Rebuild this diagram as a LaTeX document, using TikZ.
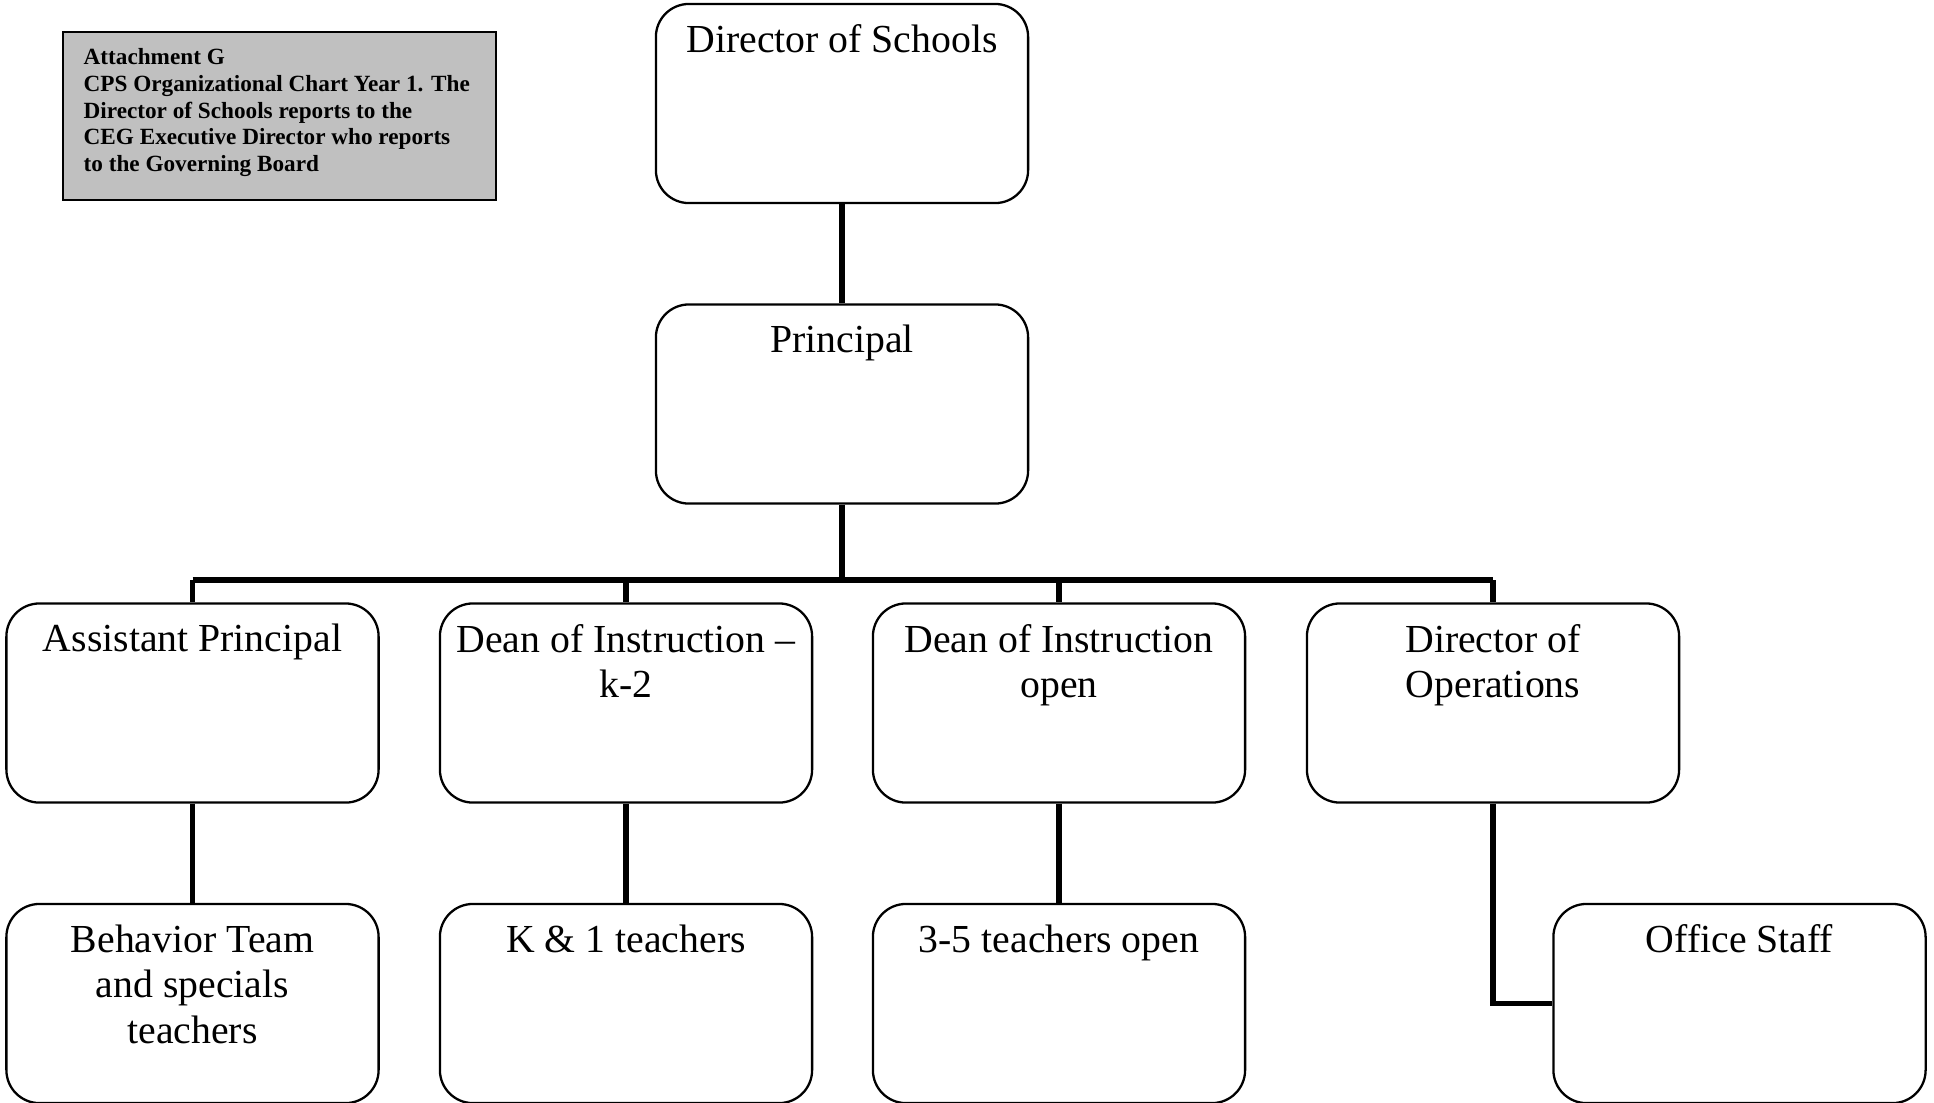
\documentclass[tikz,border=0pt]{standalone}
\usepackage{fontspec}
\setmainfont{Liberation Serif}
\usetikzlibrary{calc}

\definecolor{attgray}{HTML}{C0C0C0}
\tikzset{
orgbox/.style={draw,line width=0.65pt,rounded corners=0.33cm,minimum width=3.72cm,minimum height=1.99cm,inner sep=0pt},
boxtext/.style={anchor=north,yshift=-0.21cm,inner sep=0pt,align=center,font=\fontsize{11.3}{13}\selectfont},
link/.style={line width=1.6pt}
}

\begin{document}
\begin{tikzpicture}[x=0.01cm,y=-0.01cm]
\useasboundingbox (0,0) rectangle (1934,1102);
% note box
\node[draw,line width=0.65pt,fill=attgray,minimum width=4.33cm,minimum height=1.68cm,inner sep=0pt] (att) at (279.5,116) {};
\node[anchor=north west,inner sep=0pt,align=left,font=\bfseries\fontsize{6.6}{7.6}\selectfont] (attT) at (83,48) {Attachment G\\CPS Organizational Chart Year 1. The\\Director of Schools reports to the\\CEG Executive Director who reports\\to the Governing Board};

% boxes
\node[orgbox] (dir) at (842,103.5) {};
\node[boxtext] (dirT) at (dir.north) {Director of Schools};
\node[orgbox] (prin) at (842,404) {};
\node[boxtext] (prinT) at (prin.north) {Principal};

\node[orgbox] (ap) at (192.5,703) {};
\node[boxtext] (apT) at (ap.north) {Assistant Principal};
\node[orgbox] (dean) at (626,703) {};
\node[boxtext] (deanT) at (dean.north) {Dean of Instruction –\\k-2};
\node[orgbox] (deanopen) at (1059,703) {};
\node[boxtext] (deanopenT) at (deanopen.north) {Dean of Instruction\\open};
\node[orgbox] (ops) at (1493,703) {};
\node[boxtext] (opsT) at (ops.north) {Director of\\Operations};

\node[orgbox] (behav) at (192.5,1003.5) {};
\node[boxtext] (behavT) at (behav.north) {Behavior Team\\and specials\\teachers};
\node[orgbox] (kone) at (626,1003.5) {};
\node[boxtext] (koneT) at (kone.north) {K \& 1 teachers};
\node[orgbox] (tfive) at (1059,1003.5) {};
\node[boxtext] (tfiveT) at (tfive.north) {3-5 teachers open};
\node[orgbox] (office) at (1739.5,1003.5) {};
\node[boxtext] (officeT) at (office.north) {Office Staff};

% lines
\coordinate (bus) at (842,580);
\draw[link] (dir.south) -- (prin.north);
\draw[link] (prin.south) -- (bus);
\draw[link] (ap.north |- bus) -- (ops.north |- bus);
\draw[link] (ap.north |- bus) -- (ap.north);
\draw[link] (dean.north |- bus) -- (dean.north);
\draw[link] (deanopen.north |- bus) -- (deanopen.north);
\draw[link] (ops.north |- bus) -- (ops.north);

\draw[link] (ap.south) -- (behav.north);
\draw[link] (dean.south) -- (kone.north);
\draw[link] (deanopen.south) -- (tfive.north);
\draw[link] (ops.south) |- (office.west);
\end{tikzpicture}
\end{document}
